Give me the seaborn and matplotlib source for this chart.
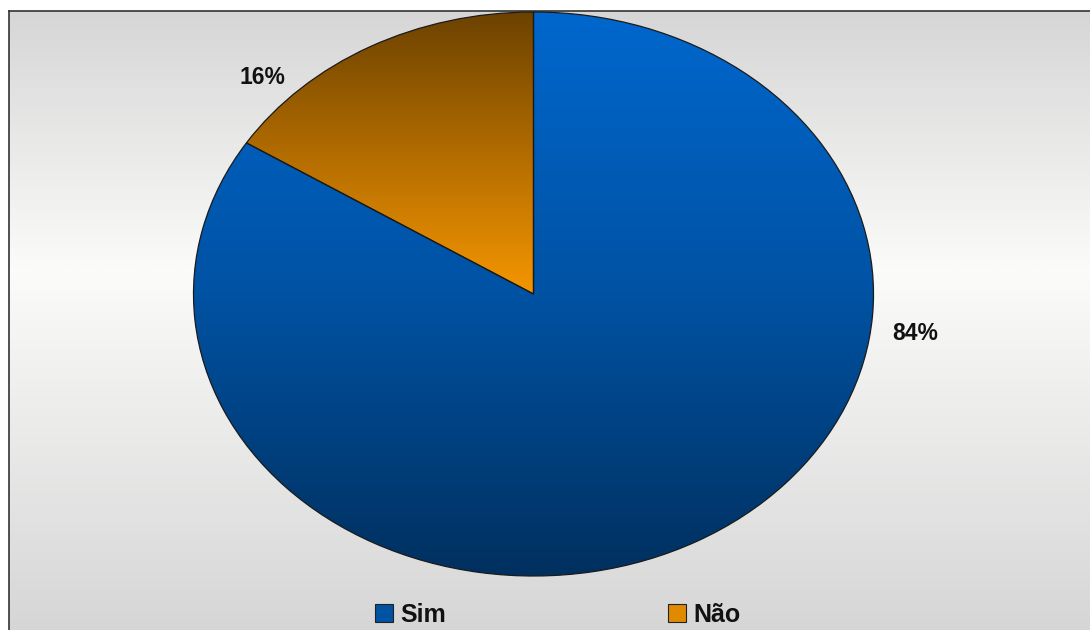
import numpy as np
import matplotlib
matplotlib.use("Agg")
import matplotlib.pyplot as plt
import seaborn as sns
from matplotlib.colors import LinearSegmentedColormap
from matplotlib.lines import Line2D

# ---- data ----
categories = ["Sim", "Não"]
values = [84, 16]
pct_labels = ["84%", "16%"]

sns.set_style("white")
plt.rcParams["font.family"] = ["Liberation Sans", "DejaVu Sans"]

W, H = 1090, 630
fig = plt.figure(figsize=(W / 100, H / 100), dpi=100)
fig.patch.set_facecolor("white")

# ---- background frame with vertical gradient ----
fx0, fy0 = 9, 11
bg = fig.add_axes([fx0 / W, 0, (W - fx0) / W, (H - fy0) / H])
grad = np.concatenate([np.linspace(0.0, 1.0, 260), np.linspace(1.0, 0.0, 360)])
bg_cmap = LinearSegmentedColormap.from_list("bg", ["#d6d6d6", "#fbfbfa"])
bg.imshow(grad[:, None], aspect="auto", cmap=bg_cmap, extent=[0, 1, 0, 1],
          origin="upper")
bg.set_xticks([]); bg.set_yticks([])
for k, s in bg.spines.items():
    s.set_color("#333333"); s.set_linewidth(1.2)
bg.spines["right"].set_visible(False)
bg.spines["bottom"].set_visible(False)

# ---- pie ----
cx, cy, rx, ry = 533.5, 294, 340, 282
ax = fig.add_axes([(cx - rx) / W, (H - cy - ry) / H, 2 * rx / W, 2 * ry / H])
ax.set_facecolor("none")

sim_c = ["#0067cd", "#0052a3", "#00305f"]
nao_c = ["#6c4200", "#b26c00", "#f59600"]

# draw Não first from 12 o'clock counter-clockwise, then Sim
order = [1, 0]
wedges, _ = ax.pie([values[i] for i in order], startangle=90, counterclock=True,
                   colors=["#f59600", "#0052a3"],
                   wedgeprops=dict(edgecolor="#1a1a1a", linewidth=0.9))
ax.set_xlim(-1, 1); ax.set_ylim(-1, 1)
ax.set_aspect("auto")
ax.axis("off")

pal = {0: sim_c, 1: nao_c}
for w, i in zip(wedges, order):
    bb = w.get_path().get_extents(w.get_patch_transform())
    cmap = LinearSegmentedColormap.from_list("g%d" % i, pal[i])
    g = np.linspace(0, 1, 256)[:, None]
    im = ax.imshow(g, aspect="auto", cmap=cmap, origin="upper",
                   extent=[bb.x0, bb.x1, bb.y0, bb.y1], zorder=w.get_zorder() - 0.1)
    im.set_clip_path(w)
    w.set_facecolor("none")
ax.set_xlim(-1, 1); ax.set_ylim(-1, 1)

# percentage labels
ax.text((262 - cx) / rx, (cy - 77) / ry, pct_labels[1], ha="center", va="center",
        fontsize=16.5, fontweight="bold", color="#111111")
ax.text((915 - cx) / rx, (cy - 333) / ry, pct_labels[0], ha="center", va="center",
        fontsize=16.5, fontweight="bold", color="#111111")

# ---- legend ----
handles = [Line2D([], [], marker="s", linestyle="none", markersize=12.5,
                  markerfacecolor=c, markeredgecolor="#222222", markeredgewidth=0.8)
           for c in ["#0052a3", "#e08a00"]]
fig.legend(handles, categories, loc="center", bbox_to_anchor=(557 / W, 1 - 615 / H),
           ncol=2, frameon=False, columnspacing=8.85, handletextpad=0.25,
           handlelength=0.8, prop=dict(weight="bold", size=18), labelcolor="#111111")

fig.savefig("out.png", dpi=100)
